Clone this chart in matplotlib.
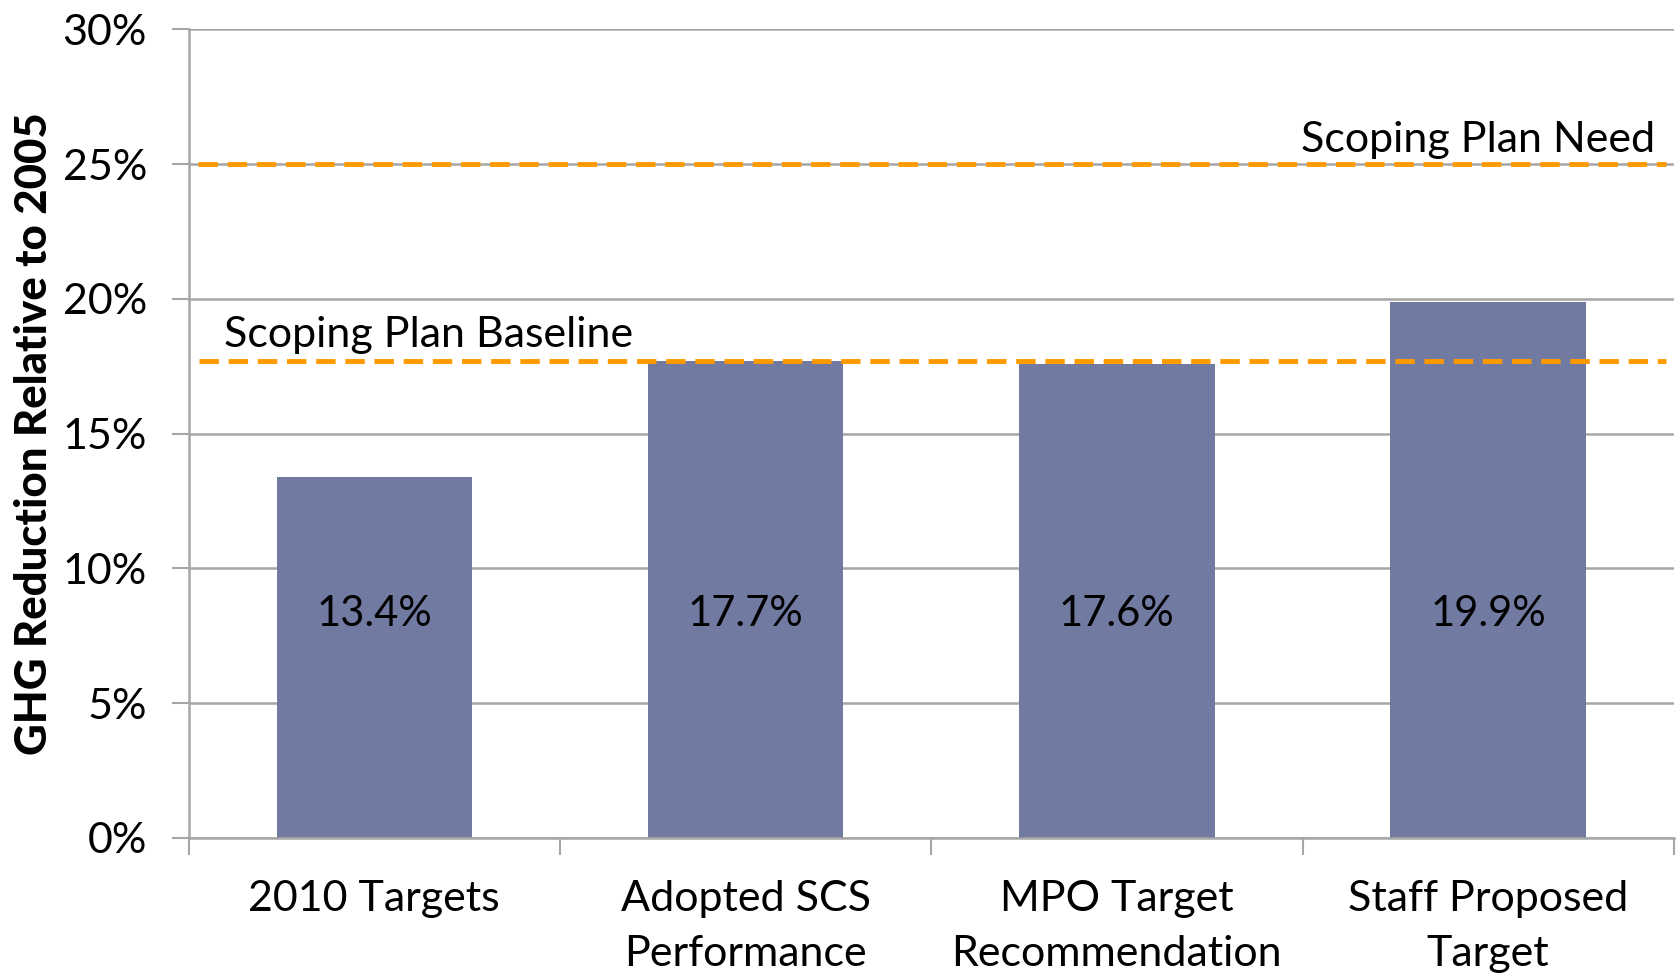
import numpy as np
import matplotlib.pyplot as plt

categories = ['2010 Targets', 'Adopted SCS\nPerformance', 'MPO Target\nRecommendation', 'Staff Proposed\nTarget']
values = [13.4, 17.7, 17.6, 19.9]
bar_labels = ['13.4%', '17.7%', '17.6%', '19.9%']
need_level = 25.0
baseline_level = 17.7
yticks = [0, 5, 10, 15, 20, 25, 30]

plt.rcParams['font.family'] = ['Lato', 'DejaVu Sans']

fig = plt.figure(figsize=(16.8, 9.77), dpi=100)
ax = fig.add_axes([0.1123, 0.1423, 0.884, 0.8277])

x = np.arange(len(categories))
grid_c = '#a6a6a6'
ax.set_axisbelow(True)
ax.yaxis.grid(True, color=grid_c, linewidth=1.8)
ax.bar(x, values, width=0.526, color='#717ba1', zorder=2)

# value labels sit inside the bars
for xi, lab in zip(x, bar_labels):
    ax.text(xi, 8.3, lab, ha='center', va='center', fontsize=30, color='black', zorder=3)

# reference lines
ax.axhline(need_level, xmin=0.006, xmax=0.995, color='#ff9900', linewidth=3.5,
           dashes=(4, 2), zorder=4)
ax.axhline(baseline_level, xmin=0.007, xmax=0.995, color='#ff9900', linewidth=3.5,
           dashes=(4, 2), zorder=4)
ax.text(3.45, 25.2, 'Scoping Plan Need', ha='right', va='bottom', fontsize=31)
ax.text(-0.405, 17.95, 'Scoping Plan Baseline', ha='left', va='bottom', fontsize=31)

ax.set_xlim(-0.5, 3.5)
ax.set_ylim(0, 30)
ax.set_yticks(yticks)
ax.set_yticklabels([f'{t}%' for t in yticks], fontsize=31)
ax.set_xticks(x)
ax.set_xticklabels(categories, fontsize=31, linespacing=1.55)
ax.set_xticks(np.arange(-0.5, 4, 1), minor=True)
ax.tick_params(axis='x', which='major', length=0, pad=30)
ax.tick_params(axis='x', which='minor', length=12, width=1.5, color=grid_c)
ax.tick_params(axis='y', length=12, width=1.5, color=grid_c, pad=18)

for s in ['top', 'right']:
    ax.spines[s].set_visible(False)
for s in ['left', 'bottom']:
    ax.spines[s].set_color(grid_c)
    ax.spines[s].set_linewidth(1.8)

ax.set_ylabel('GHG Reduction Relative to 2005', fontsize=31.5, fontweight='black', labelpad=6)

fig.savefig('out.png', dpi=100)
